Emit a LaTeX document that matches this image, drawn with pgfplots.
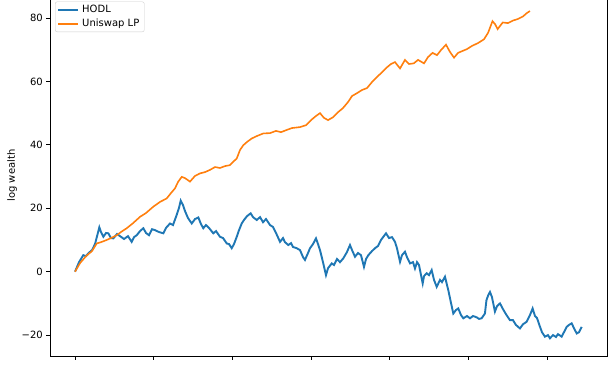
\documentclass[border=0pt]{standalone}
\usepackage{fontspec}
\setmainfont{DejaVu Sans}
\usepackage{pgfplots}
\pgfplotsset{compat=1.18}
\definecolor{tabblue}{RGB}{31,119,180}
\definecolor{taborange}{RGB}{255,127,14}
\definecolor{legframe}{RGB}{204,204,204}
\begin{document}
\begin{tikzpicture}
\begin{axis}[
  at={(0pt,0pt)}, anchor=south west,
  scale only axis, width=557pt, height=360.8pt,
  xmin=-318, xmax=6760, ymin=-26.6, ymax=87.2,
  xtick={0,1000,2000,3000,4000,5000,6000}, xticklabels={},
  ytick={-20,0,20,40,60,80},
  yticklabels={−20,0,20,40,60,80},
  tick align=outside, major tick length=3.5pt,
  xtick pos=bottom, ytick pos=left,
  every tick/.style={black, line width=0.8pt},
  axis line style={line width=0.8pt},
  tick label style={font=\fontsize{10}{12}\selectfont},
  yticklabel style={inner sep=0pt, anchor=east, xshift=-3.5pt},
  ylabel={log wealth},
  every axis y label/.style={at={(axis description cs:-0.0682,0.5)}, rotate=90, anchor=center, font=\fontsize{10}{12}\selectfont},
  legend cell align=left,
  legend image code/.code={\draw[#1] (0pt,0pt) -- (20pt,0pt);},
  legend style={at={(axis description cs:0.009,0.898)}, anchor=south west,
    draw=legframe, rounded corners=2pt,
    fill=white, fill opacity=0.8, text opacity=1, draw opacity=1,
    inner xsep=2pt, inner ysep=2pt, row sep=2pt,
    font=\fontsize{10}{12}\selectfont,
    nodes={inner xsep=3pt, inner ysep=1.5pt}},
]
\addlegendimage{tabblue, line width=2pt}
\addlegendentry{HODL}
\addlegendimage{taborange, line width=2pt}
\addlegendentry{Uniswap LP}
\addplot[tabblue, line width=1.9pt, forget plot] coordinates {
(0,0) (51,3.0) (105,5.2) (140,4.9) (169,5.8) (216,6.8) (254,8.7) (309,14.0)
(330,12.5) (360,11.0) (394,12.2) (423,12.1) (457,10.6) (487,10.5) (534,11.9)
(572,11.2) (623,10.3) (673,11.2) (720,9.4) (750,10.9) (784,11.5) (826,12.8)
(868,13.7) (902,12.2) (940,11.5) (978,13.4) (1016,13.1) (1067,12.5) (1122,12.1)
(1156,13.8) (1207,15.2) (1245,14.7) (1292,17.9) (1321,20.1) (1343,22.4) (1372,21.0)
(1398,19.1) (1436,16.9) (1483,15.2) (1525,16.6) (1567,17.1) (1601,15.0) (1630,13.7)
(1664,14.7) (1702,13.8) (1757,12.1) (1792,12.8) (1842,11.0) (1881,10.6) (1928,8.9)
(1957,8.7) (1991,7.4) (2020,8.7) (2055,11.0) (2084,13.1) (2118,15.2) (2147,16.3)
(2185,17.5) (2232,18.4) (2262,17.2) (2309,16.3) (2351,17.2) (2389,15.6) (2427,16.6)
(2478,14.7) (2516,14.1) (2554,12.2) (2605,9.4) (2643,10.6) (2668,9.3) (2710,8.4)
(2745,9.0) (2770,7.8) (2817,7.4) (2859,6.8) (2897,4.6) (2922,3.7) (2961,5.9)
(2986,7.4) (3024,8.7) (3062,10.5) (3088,8.7) (3113,6.8) (3151,3.0) (3189,-1.1)
(3215,1.1) (3262,2.6) (3291,2.1) (3329,4.0) (3367,3.0) (3409,4.2) (3456,6.2)
(3494,8.4) (3520,6.8) (3558,4.7) (3596,5.9) (3634,5.2) (3672,1.5) (3698,4.0)
(3727,5.2) (3774,6.5) (3812,7.4) (3850,8.1) (3888,10.0) (3952,12.1) (3990,10.6)
(4028,10.9) (4066,9.4) (4091,7.4) (4130,3.1) (4155,5.2) (4193,6.3) (4218,4.6)
(4257,2.6) (4295,3.0) (4320,1.0) (4346,3.0) (4371,2.1) (4418,-3.7) (4435,-1.4)
(4469,-0.5) (4498,-1.1) (4532,0.5) (4562,-2.6) (4596,-4.8) (4638,-2.6) (4663,-3.3)
(4701,-1.6) (4743,-5.8) (4778,-9.9) (4807,-13.2) (4841,-12.1) (4870,-11.6) (4905,-13.7)
(4934,-14.7) (4981,-14.0) (5019,-14.7) (5057,-14.0) (5104,-14.4) (5133,-14.9) (5167,-14.7)
(5209,-13.2) (5228,-9.0) (5251,-7.4) (5273,-6.4) (5298,-8.0) (5336,-12.6) (5362,-10.9)
(5400,-10.0) (5438,-11.8) (5476,-13.4) (5527,-15.3) (5565,-15.3) (5603,-16.8) (5654,-17.9)
(5692,-16.6) (5739,-15.8) (5781,-13.7) (5815,-11.6) (5845,-14.0) (5870,-14.6) (5909,-17.4)
(5934,-19.1) (5971,-20.5) (6010,-20.0) (6035,-21.0) (6074,-20.0) (6112,-20.6) (6137,-19.7)
(6184,-20.5) (6213,-19.1) (6248,-17.4) (6277,-16.8) (6311,-16.3) (6340,-17.8) (6375,-19.5)
(6404,-19.1) (6438,-17.4)
};
\addplot[taborange, line width=1.6pt, forget plot] coordinates {
(0,0) (64,2.7) (140,4.9) (216,6.5) (276,8.9) (330,9.3) (403,10.0) (457,10.6)
(530,11.5) (584,12.5) (657,13.7) (737,15.3) (826,17.3) (902,18.5) (995,20.5)
(1080,22.0) (1165,23.1) (1220,24.8) (1271,26.3) (1309,28.3) (1356,29.9) (1398,29.5)
(1461,28.4) (1525,30.2) (1588,31.0) (1652,31.4) (1715,32.1) (1779,33.0) (1842,32.7)
(1906,33.3) (1969,33.6) (2008,34.6) (2055,35.7) (2097,38.4) (2139,39.9) (2185,40.9)
(2245,42.0) (2313,42.8) (2393,43.6) (2478,43.7) (2554,44.4) (2618,44.0) (2690,44.7)
(2757,45.3) (2859,45.6) (2935,46.2) (2999,47.8) (3062,49.1) (3113,50.0) (3164,48.5)
(3215,47.8) (3278,48.7) (3342,50.3) (3405,51.6) (3469,53.5) (3520,55.4) (3583,56.3)
(3647,57.3) (3710,57.9) (3774,59.8) (3825,61.1) (3888,62.6) (3952,64.2) (4015,65.5)
(4066,66.1) (4130,64.1) (4193,66.8) (4244,65.5) (4304,65.7) (4359,66.8) (4435,65.7)
(4486,67.7) (4543,69.0) (4600,68.3) (4651,69.9) (4714,71.6) (4765,69.3) (4816,67.5)
(4867,69.0) (4913,69.5) (4981,70.2) (5044,71.2) (5121,72.1) (5197,73.3) (5248,75.3)
(5305,79.0) (5337,78.1) (5370,76.5) (5435,78.6) (5502,78.4) (5565,79.2) (5629,79.7)
(5692,80.5) (5743,81.6) (5781,82.2)
};
\end{axis}
\pgfresetboundingbox
\useasboundingbox (-50pt,-9pt) rectangle (564pt,356pt);
\end{tikzpicture}
\end{document}
